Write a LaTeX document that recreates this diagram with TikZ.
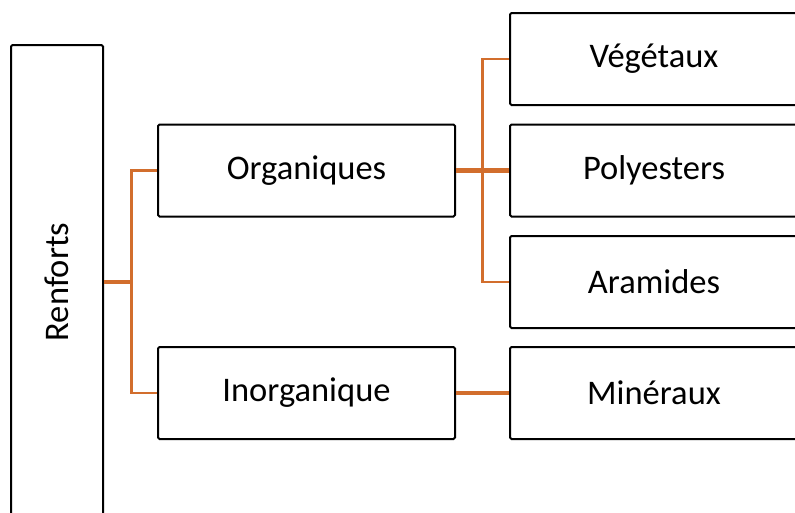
\documentclass[tikz,border=0pt]{standalone}
\usepackage{fontspec}
\setmainfont{Carlito}
\definecolor{conn}{RGB}{210,110,45}
\newcommand{\mylbl}[1]{\raisebox{-3pt}{#1}}
\begin{document}
\begin{tikzpicture}[x=1pt,y=-1pt,
  box/.style={draw=black,line width=2pt,rounded corners=1.5pt,fill=white,inner sep=0pt,
    font=\fontsize{34.5}{40}\selectfont},
  thinc/.style={draw=conn,line width=2.4pt},
  thickc/.style={draw=conn,line width=4.2pt}]
\useasboundingbox (0,0) rectangle (795,512);
\begin{scope}
\clip (0,0) rectangle (795,512);
\node[box,minimum width=92pt,minimum height=474pt] (R) at (57,282) {\rotatebox{90}{\mylbl{Renforts}}};
\node[box,minimum width=297pt,minimum height=92pt] (O) at (306.5,170.5) {\mylbl{Organiques}};
\node[box,minimum width=297pt,minimum height=92pt] (I) at (306.5,393) {\mylbl{Inorganique}};
\node[box,minimum width=288pt,minimum height=92pt] (V) at (654,59) {\mylbl{Végétaux}};
\node[box,minimum width=288pt,minimum height=92pt] (P) at (654,170.5) {\mylbl{Polyesters}};
\node[box,minimum width=288pt,minimum height=92pt] (A) at (654,282) {\mylbl{Aramides}};
\node[box,minimum width=288pt,minimum height=92pt] (M) at (654,393) {\mylbl{Minéraux}};
\coordinate (j1) at (131.5,282);
\coordinate (j2) at (482.5,170.5);
\draw[thinc] (O.west) -| (j1) |- (I.west);
\draw[thickc] (R.east) -- (j1);
\draw[thickc] (O.east) -- (P.west);
\draw[thinc] (V.west) -| (j2) |- (A.west);
\draw[thickc] (I.east) -- (M.west);
\end{scope}
\end{tikzpicture}
\end{document}
